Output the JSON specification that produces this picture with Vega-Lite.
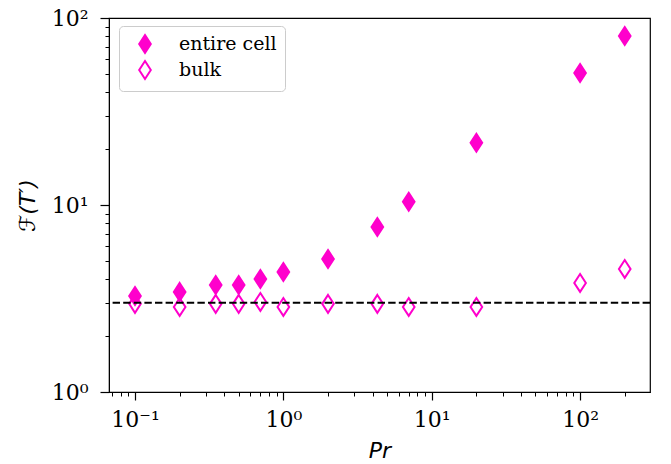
{
  "$schema": "https://vega.github.io/schema/vega-lite/v6.json",
  "width": 541,
  "height": 374,
  "autosize": {"type": "none"},
  "padding": {"left": 109, "top": 18, "right": 21, "bottom": 72},
  "background": "white",
  "config": {
    "view": {"stroke": "black", "strokeWidth": 1.2},
    "axis": {
      "domainColor": "black",
      "tickColor": "black",
      "labelColor": "black",
      "titleColor": "black",
      "grid": false,
      "labelFont": "DejaVu Serif",
      "labelFontSize": 22,
      "titleFont": "DejaVu Sans",
      "titleFontSize": 22,
      "titleFontWeight": "normal",
      "titleFontStyle": "italic"
    }
  },
  "layer": [
    {
      "data": {
        "values": [
          {"Pr": 0.1, "F": 3.26, "series": "entire cell"},
          {"Pr": 0.2, "F": 3.43, "series": "entire cell"},
          {"Pr": 0.35, "F": 3.73, "series": "entire cell"},
          {"Pr": 0.5, "F": 3.73, "series": "entire cell"},
          {"Pr": 0.7, "F": 4.02, "series": "entire cell"},
          {"Pr": 1, "F": 4.38, "series": "entire cell"},
          {"Pr": 2, "F": 5.14, "series": "entire cell"},
          {"Pr": 4.3, "F": 7.62, "series": "entire cell"},
          {"Pr": 7, "F": 10.4, "series": "entire cell"},
          {"Pr": 20, "F": 21.5, "series": "entire cell"},
          {"Pr": 100, "F": 50.8, "series": "entire cell"},
          {"Pr": 200, "F": 80.1, "series": "entire cell"},
          {"Pr": 0.1, "F": 2.96, "series": "bulk"},
          {"Pr": 0.2, "F": 2.85, "series": "bulk"},
          {"Pr": 0.35, "F": 2.96, "series": "bulk"},
          {"Pr": 0.5, "F": 2.96, "series": "bulk"},
          {"Pr": 0.7, "F": 3.03, "series": "bulk"},
          {"Pr": 1, "F": 2.85, "series": "bulk"},
          {"Pr": 2, "F": 2.96, "series": "bulk"},
          {"Pr": 4.3, "F": 2.96, "series": "bulk"},
          {"Pr": 7, "F": 2.85, "series": "bulk"},
          {"Pr": 20, "F": 2.85, "series": "bulk"},
          {"Pr": 100, "F": 3.83, "series": "bulk"},
          {"Pr": 200, "F": 4.55, "series": "bulk"}
        ]
      },
      "mark": {
        "type": "point",
        "shape": "M0,-1L0.65,0L0,1L-0.65,0Z",
        "size": 320,
        "stroke": "#ff00cc",
        "strokeWidth": 2,
        "opacity": 1,
        "filled": false
      },
      "encoding": {
        "x": {
          "field": "Pr",
          "type": "quantitative",
          "scale": {"type": "log", "domain": [0.0668, 296], "nice": false},
          "title": "Pr",
          "axis": {
            "values": [0.07, 0.08, 0.09, 0.1, 0.2, 0.3, 0.4, 0.5, 0.6, 0.7, 0.8, 0.9, 1, 2, 3, 4, 5, 6, 7, 8, 9, 10, 20, 30, 40, 50, 60, 70, 80, 90, 100, 200],
            "labelExpr": "datum.value == 0.1 ? '10⁻¹' : datum.value == 1 ? '10⁰' : datum.value == 10 ? '10¹' : datum.value == 100 ? '10²' : ''",
            "tickSize": {"condition": {"test": "datum.value == 0.1 || datum.value == 1 || datum.value == 10 || datum.value == 100", "value": 8}, "value": 4},
            "tickWidth": {"condition": {"test": "datum.value == 0.1 || datum.value == 1 || datum.value == 10 || datum.value == 100", "value": 1.2}, "value": 1},
            "labelPadding": 9,
            "labelFlush": false,
            "labelOverlap": false,
            "titlePadding": 10
          }
        },
        "y": {
          "field": "F",
          "type": "quantitative",
          "scale": {"type": "log", "domain": [1, 100], "nice": false},
          "title": "ℱ(T′)",
          "axis": {
            "values": [1, 2, 3, 4, 5, 6, 7, 8, 9, 10, 20, 30, 40, 50, 60, 70, 80, 90, 100],
            "labelExpr": "datum.value == 1 ? '10⁰' : datum.value == 10 ? '10¹' : datum.value == 100 ? '10²' : ''",
            "tickSize": {"condition": {"test": "datum.value == 1 || datum.value == 10 || datum.value == 100", "value": 9}, "value": 4},
            "tickWidth": {"condition": {"test": "datum.value == 1 || datum.value == 10 || datum.value == 100", "value": 1.2}, "value": 1},
            "labelPadding": 12,
            "labelFlush": false,
            "labelOverlap": false,
            "titlePadding": 12
          }
        },
        "fill": {
          "field": "series",
          "type": "nominal",
          "scale": {"domain": ["entire cell", "bulk"], "range": ["#ff00cc", "rgba(255,255,255,0)"]},
          "legend": {
            "title": null,
            "orient": "none",
            "legendX": 10,
            "legendY": 8,
            "padding": 8,
            "symbolOffset": 8,
            "rowPadding": 0,
            "symbolType": "M0,-1L0.65,0L0,1L-0.65,0Z",
            "symbolSize": 320,
            "symbolStrokeColor": "#ff00cc",
            "symbolStrokeWidth": 2,
            "labelFont": "DejaVu Serif",
            "labelFontSize": 19,
            "labelColor": "black",
            "labelOffset": 24,
            "strokeColor": "#cccccc",
            "fillColor": "white",
            "cornerRadius": 4
          }
        }
      }
    },
    {
      "data": {"values": [{"level": 3}]},
      "mark": {"type": "rule", "color": "black", "strokeWidth": 2, "strokeDash": [7.4, 3.2]},
      "encoding": {
        "y": {"field": "level", "type": "quantitative"}
      }
    }
  ]
}
